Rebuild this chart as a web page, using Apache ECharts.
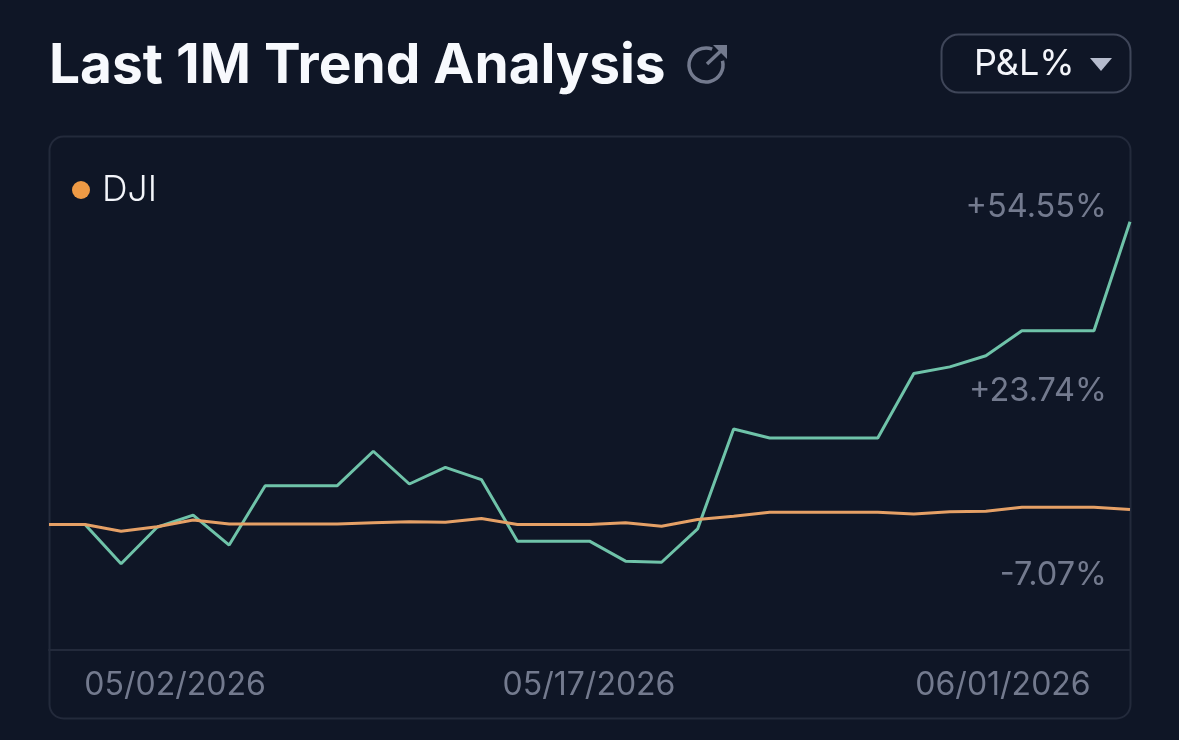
<!DOCTYPE html>
<html>
<head>
<meta charset="utf-8">
<title>Last 1M Trend Analysis</title>
<style>
  html, body { margin: 0; padding: 0; background: #0f1626; }
  #chart { width: 1179px; height: 740px; }
</style>
<script src="https://cdn.jsdelivr.net/npm/echarts@6/dist/echarts.min.js"></script>
</head>
<body>
<div id="chart"></div>
<script>
// Daily P&L % over the month, one entry per session
const days = [
  '05/02','05/03','05/04','05/05','05/06','05/07','05/08','05/09','05/10','05/11','05/12',
  '05/13','05/14','05/15','05/16','05/17','05/18','05/19','05/20','05/21','05/22','05/23',
  '05/24','05/25','05/26','05/27','05/28','05/29','05/30','05/31','06/01'
];
const portfolio = [
  0, 0, -7.07, -0.5, 1.7, -3.7, 7.0, 7.0, 7.0, 13.2, 7.3,
  10.3, 8.1, -3.0, -3.0, -3.0, -6.6, -6.8, -0.8, 17.2, 15.6, 15.6,
  15.6, 15.6, 27.2, 28.4, 30.4, 34.9, 34.9, 34.9, 54.55
];
const dji = [
  0, 0, -1.2, -0.4, 0.8, 0.1, 0.1, 0.1, 0.1, 0.3, 0.5,
  0.4, 1.1, 0, 0, 0, 0.3, -0.3, 0.9, 1.5, 2.2, 2.2,
  2.2, 2.2, 1.9, 2.3, 2.4, 3.1, 3.1, 3.1, 2.7
];
const dateLabels = ['05/02/2026', '05/17/2026', '06/01/2026'];
const pnlLabels = [-7.07, 23.74, 54.55];

const FONT = 'Inter, "Noto Sans", sans-serif';
const BG = '#0f1626';
const RULE = '#232a3b';
const MUTED = '#737a8e';

const chart = echarts.init(document.getElementById('chart'), null, { renderer: 'canvas' });

chart.setOption({
  animation: false,
  backgroundColor: BG,
  title: {
    text: 'Last 1M Trend Analysis',
    left: 49, top: 36, padding: 0,
    textStyle: { color: '#f7f9fd', fontFamily: FONT, fontSize: 55, fontWeight: 700, lineHeight: 60 }
  },
  legend: {
    data: [{ name: 'DJI', itemStyle: { color: '#ee9a45' } }],
    left: 72, top: 172, padding: 0,
    icon: 'circle', itemWidth: 18, itemHeight: 18, itemGap: 8,
    textStyle: { color: '#f3f5fa', fontFamily: FONT, fontSize: 35.5, fontWeight: 300, padding: [3, 0, 0, 7] }
  },
  grid: [
    // Plot area of the two lines, from the card top down to the footer rule
    { left: 49, right: 49, top: 137, bottom: 90 },
    // Footer band holding the three evenly spread dates
    { left: 175, right: 176, top: 137, bottom: 90 },
    // Right-hand band holding the three P&L read-outs
    { left: 49, right: 72, top: 207, bottom: 165 }
  ],
  xAxis: [
    {
      gridIndex: 0, type: 'category', data: days, boundaryGap: false,
      axisLine: { show: true, onZero: false, lineStyle: { color: RULE, width: 2 } },
      axisTick: { show: false }, axisLabel: { show: false }, splitLine: { show: false }
    },
    {
      gridIndex: 1, type: 'category', data: dateLabels, boundaryGap: false,
      axisLine: { show: false }, axisTick: { show: false }, splitLine: { show: false },
      axisLabel: { interval: 0, margin: 19, color: MUTED, fontFamily: FONT, fontSize: 32, fontWeight: 400 }
    },
    { gridIndex: 2, type: 'value', show: false, min: 0, max: 1 }
  ],
  yAxis: [
    { gridIndex: 0, type: 'value', show: false, min: -22.61, max: 69.82, splitLine: { show: false } },
    { gridIndex: 1, type: 'value', show: false, min: 0, max: 1, splitLine: { show: false } },
    {
      gridIndex: 2, type: 'value', position: 'right',
      min: pnlLabels[0], max: pnlLabels[2],
      axisLine: { show: false }, axisTick: { show: false }, splitLine: { show: false },
      axisLabel: {
        inside: true, margin: 0,
        customValues: pnlLabels,
        color: MUTED, fontFamily: FONT, fontSize: 32.5, fontWeight: 400,
        formatter: v => (v > 0 ? '+' : '') + v.toFixed(2) + '%'
      }
    }
  ],
  series: [
    {
      name: 'Portfolio', type: 'line', data: portfolio, xAxisIndex: 0, yAxisIndex: 0,
      symbol: 'none', clip: false, lineStyle: { color: '#6fc3a9', width: 3 }, itemStyle: { color: '#6fc3a9' }
    },
    {
      name: 'DJI', type: 'line', data: dji, xAxisIndex: 0, yAxisIndex: 0,
      symbol: 'none', clip: false, lineStyle: { color: '#e5a066', width: 3 }, itemStyle: { color: '#e5a066' }
    }
  ],
  graphic: [
    // Card outline around the plot
    {
      type: 'rect', z: -1,
      shape: { x: 49.5, y: 136.5, width: 1081, height: 582, r: 14 },
      style: { fill: 'transparent', stroke: RULE, lineWidth: 2 }
    },
    // Share icon next to the heading
    {
      type: 'arc',
      shape: { cx: 706, cy: 65, r: 17, startAngle: -0.25, endAngle: -1.2, clockwise: true },
      style: { fill: 'none', stroke: MUTED, lineWidth: 3.5 }
    },
    {
      type: 'polyline',
      shape: { points: [[707, 64], [725, 47]] },
      style: { fill: 'none', stroke: MUTED, lineWidth: 3.5 }
    },
    {
      type: 'polygon',
      shape: { points: [[713, 45], [727, 45], [727, 59]] },
      style: { fill: MUTED }
    },
    // P&L % selector
    {
      type: 'rect',
      shape: { x: 941.5, y: 34.5, width: 189, height: 58, r: 17 },
      style: { fill: 'transparent', stroke: '#3f4659', lineWidth: 2 }
    },
    {
      type: 'text',
      style: {
        x: 974, y: 64, text: 'P&L%', fill: '#f3f5fa',
        font: '400 36px ' + FONT, textAlign: 'left', textVerticalAlign: 'middle'
      }
    },
    {
      type: 'polygon',
      shape: { points: [[1090, 58], [1112, 58], [1101, 71]] },
      style: { fill: '#b6bccd' }
    }
  ]
});
</script>
</body>
</html>
